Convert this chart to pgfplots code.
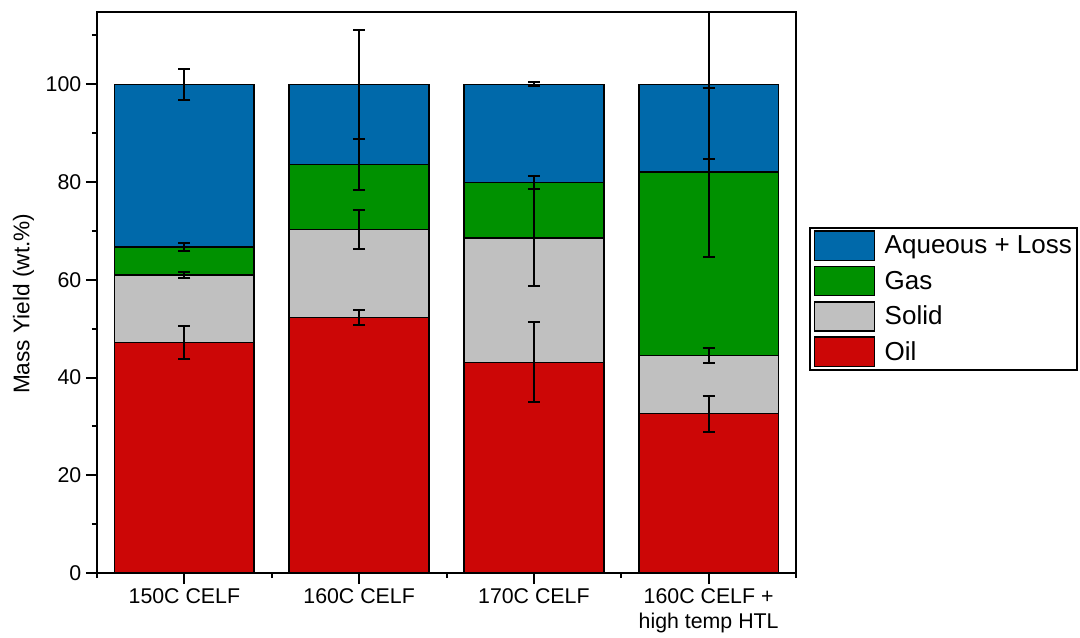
\documentclass[border=0pt]{standalone}
\usepackage{fontspec}
\setmainfont{Liberation Sans}
\usepackage{pgfplots}
\pgfplotsset{compat=1.18}
\definecolor{aq}{RGB}{0,105,170}
\definecolor{gas}{RGB}{0,145,0}
\definecolor{sol}{RGB}{192,192,192}
\definecolor{oil}{RGB}{204,6,6}
\begin{document}
\begin{tikzpicture}
\useasboundingbox (-72.75pt,-48.75pt) rectangle (737.25pt,429.75pt);
\pgfplotsset{
 common/.style={
  at={(0pt,0pt)}, anchor=south west,
  scale only axis, width=524.25pt, height=420.75pt,
  xmin=-0.5, xmax=3.5, ymin=0, ymax=114.8,
 }
}
\begin{axis}[common,
  ybar stacked, bar width=0.8,
  axis line style={line width=1.5pt},
  xtick={0,1,2,3},
  xticklabels={150C CELF,160C CELF,170C CELF,{160C CELF +\\high temp HTL}},
  minor xtick={-0.5,0.5,1.5,2.5,3.5},
  ytick={0,20,...,100}, minor ytick={10,30,...,110},
  tick align=outside, xtick pos=left, ytick pos=left,
  major tick length=8.25pt, minor tick length=3.75pt,
  tick style={line width=1.5pt, black},
  /pgf/number format/assume math mode=true,
  tick label style={font=\fontsize{16}{19}\selectfont},
  xticklabel style={align=center},
  ylabel={Mass Yield (wt.\%)},
  ylabel style={font=\fontsize{17}{20}\selectfont, at={(axis description cs:-0.105,0.48)}, anchor=center},
  legend style={at={(1.0186,0.6168)}, anchor=north west, draw=black, line width=1.2pt,
     font=\fontsize{19.5}{22}\selectfont, inner xsep=3pt, inner ysep=2pt, row sep=3.5pt,
     nodes={inner sep=1pt}},
  legend cell align=left,
  reverse legend,
  legend image code/.code={\draw[#1, line width=1.2pt] (0pt,-10.9pt) rectangle (45pt,10.9pt); \path (51pt,0pt);},
]
\addplot[fill=oil, draw=black, line width=1.2pt] coordinates {(0,47.2) (1,52.3) (2,43.1) (3,32.6)};
\addlegendentry{Oil}
\addplot[fill=sol, draw=black, line width=1.2pt] coordinates {(0,13.8) (1,18.0) (2,25.5) (3,11.9)};
\addlegendentry{Solid}
\addplot[fill=gas, draw=black, line width=1.2pt] coordinates {(0,5.7) (1,13.3) (2,11.3) (3,37.5)};
\addlegendentry{Gas}
\addplot[fill=aq, draw=black, line width=1.2pt] coordinates {(0,33.3) (1,16.4) (2,20.1) (3,18.0)};
\addlegendentry{Aqueous + Loss}
\end{axis}
\begin{axis}[common, hide axis]
\pgfplotsset{errs/.style={draw=none, mark=none, error bars/.cd, y dir=both, y explicit,
   error bar style={draw=black, line width=1.5pt, solid},
   error mark options={draw=black, line width=1.5pt, mark size=4.5pt, rotate=90}}}
\addplot[errs] coordinates {(0,47.2) +- (0,3.4) (1,52.3) +- (0,1.6) (2,43.1) +- (0,8.2) (3,32.6) +- (0,3.65)};
\addplot[errs] coordinates {(0,61.0) +- (0,0.6) (1,70.3) +- (0,4.0) (2,68.6) +- (0,9.9) (3,44.5) +- (0,1.45)};
\addplot[errs] coordinates {(0,66.7) +- (0,0.8) (1,83.6) +- (0,5.3) (2,79.9) +- (0,1.3) (3,82.0) +- (0,17.3)};
\addplot[errs] coordinates {(0,100) +- (0,3.2) (1,100) +- (0,11.2) (2,100) +- (0,0.4) (3,100) +- (0,15.3)};
\end{axis}
\end{tikzpicture}
\end{document}
